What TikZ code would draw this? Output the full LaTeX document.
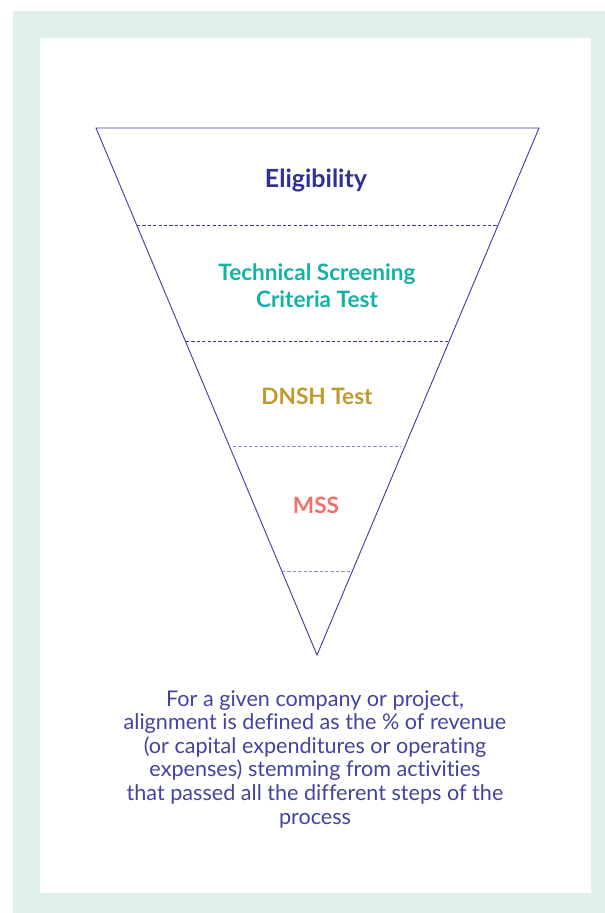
\documentclass[tikz,border=0pt]{standalone}
\usepackage{fontspec}
\setmainfont{Lato}[Ligatures=CommonOff]
\definecolor{framegreen}{HTML}{DFF0E8}
\definecolor{navy}{HTML}{2E3192}
\definecolor{funnel}{HTML}{3C3C9E}
\definecolor{lightdash}{HTML}{8A8AC6}
\definecolor{teal}{HTML}{14B2A6}
\definecolor{gold}{HTML}{BF9A2C}
\definecolor{salmon}{HTML}{F2706A}
\definecolor{captioncol}{HTML}{4343A0}
\begin{document}
\begin{tikzpicture}[x=1pt,y=-1pt,
  stagelabel/.style={font=\fontsize{22.6}{27}\selectfont\bfseries, align=center, inner sep=0pt},
  divider/.style={draw=funnel, dashed, dash pattern=on 3.2pt off 2.2pt, line width=0.8pt},
  softdivider/.style={divider, draw=lightdash},
  caption/.style={font=\fontsize{21.6}{23.6}\selectfont, text=captioncol, align=center, inner sep=0pt}]
\useasboundingbox (0,0) rectangle (605,913);
\fill[framegreen] (13,11) rectangle (605,913);
\fill[white] (40,38) rectangle (591,893);
% funnel
\coordinate (tl) at (96,128);
\coordinate (tr) at (539,128);
\coordinate (apex) at (317,655);
\draw[funnel, line width=0.9pt, line join=miter] (tl) -- (tr) -- (apex) -- cycle;
% dividers
\coordinate (d1l) at (137,225); \coordinate (d1r) at (498,225);
\coordinate (d2l) at (186,341); \coordinate (d2r) at (449,341);
\coordinate (d3l) at (233,446); \coordinate (d3r) at (401,446);
\coordinate (d4l) at (282,571); \coordinate (d4r) at (352,571);
\draw[divider] (d1l) -- (d1r);
\draw[divider] (d2l) -- (d2r);
\draw[softdivider] (d3l) -- (d3r);
\draw[softdivider] (d4l) -- (d4r);
% labels
\node[stagelabel, text=navy, font=\fontsize{25}{30}\selectfont\bfseries] (elig) at (316,180) {Eligibility};
\node[stagelabel, text=teal] (tsc) at (317,286) {Technical Screening\\Criteria Test};
\node[stagelabel, text=gold] (dnsh) at (317,396) {DNSH Test};
\node[stagelabel, text=salmon] (mss) at (316,505) {MSS};
\node[caption] (cap) at (315,759) {For a given company or project,\\alignment is defined as the \% of revenue\\(or capital expenditures or operating\\expenses) stemming from activities\\that passed all the different steps of the\\process};
\end{tikzpicture}
\end{document}
